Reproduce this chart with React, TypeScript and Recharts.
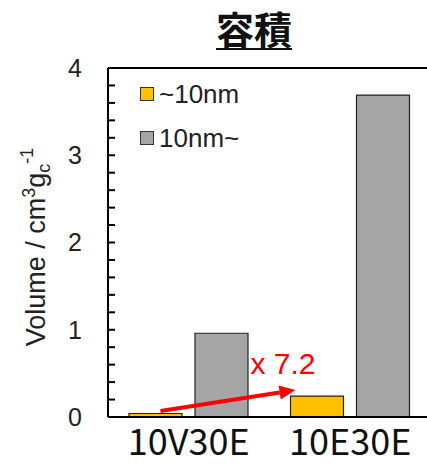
import { BarChart, Bar, XAxis, YAxis, ReferenceLine, LabelList } from "recharts";

const categories = ["10V30E", "10E30E"];
const under10 = [0.04, 0.24];
const over10 = [0.96, 3.69];
const yTicks = [0, 0.2, 0.4, 0.6, 0.8, 1, 1.2, 1.4, 1.6, 1.8, 2, 2.2, 2.4, 2.6, 2.8, 3, 3.2, 3.4, 3.6, 3.8, 4];
const seriesNames = ["~10nm", "10nm~"];
const ratioLabel = "x 7.2";

const data = categories.map((name, i) => ({ name, a: under10[i], b: over10[i] }));

const ORANGE = "#FFC000";
const GRAY = "#A5A5A5";
const AXIS_X = 108;
const SANS = "'Liberation Sans', Arial, sans-serif";
const CJK = "'Noto Sans CJK JP', sans-serif";

// integers get a label, the 0.2 steps only a tick mark
const fmtY = (v: number) => (Math.abs(v - Math.round(v)) < 1e-6 ? String(Math.round(v)) : "");

const YLabel = () => (
  <text
    transform="translate(45, 247) rotate(-90)"
    textAnchor="middle"
    fontSize={27}
    fontFamily={SANS}
    fill="#222"
  >
    Volume / cm<tspan dy={-10} fontSize={18}>3</tspan>
    <tspan dy={10}>g</tspan>
    <tspan dy={5} fontSize={18}>c</tspan>
    <tspan dy={-17} fontSize={18}>-1</tspan>
  </text>
);

const ArrowNote = (props: any) => {
  const { x, y, height, index } = props;
  if (index !== 1) return null;
  const base = y + height;
  const x1 = x - 130;
  const y1 = base - 6;
  const x2 = x + 5;
  const y2 = y - 6;
  const ang = Math.atan2(y2 - y1, x2 - x1);
  const hl = 16;
  const hw = 7;
  const bx = x2 - hl * Math.cos(ang);
  const by = y2 - hl * Math.sin(ang);
  const px = -Math.sin(ang) * hw;
  const py = Math.cos(ang) * hw;
  return (
    <g>
      <line x1={x1} y1={y1} x2={bx} y2={by} stroke="#FF0000" strokeWidth={4} />
      <polygon points={`${x2},${y2} ${bx + px},${by + py} ${bx - px},${by - py}`} fill="#FF0000" />
      <text x={x - 40} y={y - 22} fontSize={30} fontFamily={SANS} fill="#FF0000">
        {ratioLabel}
      </text>
    </g>
  );
};

const LegendBox = () => (
  <div
    style={{
      position: "absolute",
      left: 140,
      top: 72,
      fontFamily: SANS,
      fontSize: 26,
      color: "#222",
      zIndex: 2,
    }}
  >
    {[ORANGE, GRAY].map((c, i) => (
      <div key={i} style={{ display: "flex", alignItems: "center", height: 44 }}>
        <span
          style={{
            display: "inline-block",
            width: 12,
            height: 12,
            background: c,
            border: "1.5px solid #333",
            marginRight: 5,
          }}
        />
        <span>{seriesNames[i]}</span>
      </div>
    ))}
  </div>
);

export default function App() {
  return (
    <div
      style={{
        position: "fixed",
        left: 0,
        top: 0,
        width: 427,
        height: 468,
        overflow: "hidden",
        background: "#fff",
      }}
    >
      <div
        style={{
          position: "absolute",
          left: 254,
          top: 0,
          transform: "translateX(-50%)",
          fontFamily: CJK,
          fontWeight: 700,
          fontSize: 38,
          lineHeight: "56px",
          textDecoration: "underline",
          textDecorationThickness: 2,
          textUnderlineOffset: 4,
          color: "#111",
          whiteSpace: "nowrap",
          zIndex: 2,
        }}
      >
        容積
      </div>
      <LegendBox />
      <BarChart
        width={431}
        height={468}
        data={data}
        margin={{ top: 68, right: 0, bottom: 0, left: 0 }}
        barCategoryGap="13%"
        barGap={13}
      >
        <XAxis
          dataKey="name"
          axisLine={{ stroke: "#000", strokeWidth: 2 }}
          tickLine={false}
          height={51}
          tickMargin={6}
          tick={{ fontSize: 36, fontFamily: CJK, fill: "#111" }}
        />
        <YAxis
          width={AXIS_X}
          domain={[0, 4]}
          ticks={yTicks}
          interval={0}
          axisLine={{ stroke: "#000", strokeWidth: 2 }}
          tickLine={{ stroke: "#000", strokeWidth: 2 }}
          tickSize={-7}
          tickMargin={33}
          tickFormatter={fmtY}
          tick={{ fontSize: 25, fontFamily: SANS, fill: "#222" }}
          label={<YLabel />}
        />
        <ReferenceLine y={4} stroke="#000" strokeWidth={2} />
        <Bar dataKey="a" fill={ORANGE} stroke="#222" strokeWidth={1.2} isAnimationActive={false}>
          <LabelList dataKey="a" content={<ArrowNote />} />
        </Bar>
        <Bar dataKey="b" fill={GRAY} stroke="#222" strokeWidth={1.2} isAnimationActive={false} />
      </BarChart>
    </div>
  );
}
